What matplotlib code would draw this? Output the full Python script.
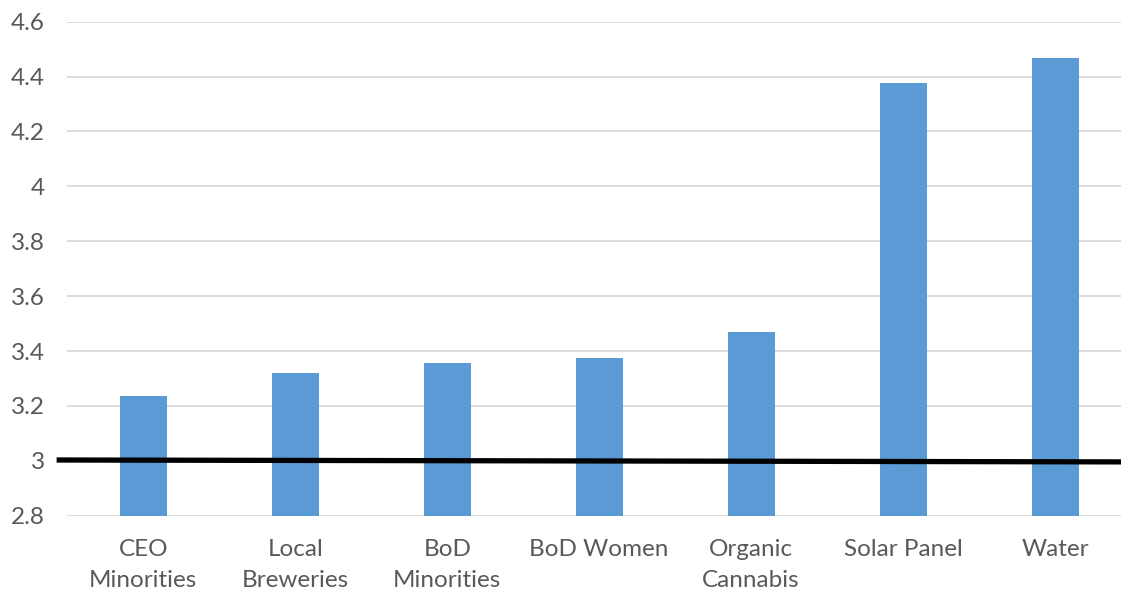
import matplotlib.pyplot as plt
import numpy as np

plt.rcParams["font.family"] = ["Lato", "DejaVu Sans"]

categories = ["CEO\nMinorities", "Local\nBreweries", "BoD\nMinorities", "BoD Women",
              "Organic\nCannabis", "Solar Panel", "Water"]
scores = [3.236, 3.319, 3.357, 3.374, 3.468, 4.376, 4.467]
yticks = [2.8, 3.0, 3.2, 3.4, 3.6, 3.8, 4.0, 4.2, 4.4, 4.6]
ytick_labels = ["2.8", "3", "3.2", "3.4", "3.6", "3.8", "4", "4.2", "4.4", "4.6"]

# reference line: ends slightly off level
ref_x = [-0.57, 6.5]
ref_y = [3.003, 2.996]

BAR_COLOR = "#5B9BD5"
TEXT_COLOR = "#595959"
GRID_COLOR = "#D9D9D9"

fig = plt.figure(figsize=(11.21, 5.91), dpi=100)
ax = fig.add_axes([0.060, 0.1274, 0.949, 0.8359])

x = np.arange(len(categories))
ax.bar(x, scores, width=0.31, bottom=0, color=BAR_COLOR, zorder=2)

ax.plot(ref_x, ref_y, color="black", linewidth=3.8, solid_capstyle="butt",
        clip_on=False, zorder=3)

ax.set_xlim(-0.5, 6.5)
ax.set_ylim(2.8, 4.6)
ax.set_yticks(yticks)
ax.set_yticklabels(ytick_labels)
ax.set_xticks(x)
ax.set_xticklabels(categories, linespacing=1.55)

ax.yaxis.grid(True, color=GRID_COLOR, linewidth=1.3, zorder=0)
ax.set_axisbelow(True)
for side in ["top", "right", "left", "bottom"]:
    ax.spines[side].set_visible(False)

ax.tick_params(axis="both", length=0, labelsize=17.5, colors=TEXT_COLOR)
ax.tick_params(axis="y", pad=16)
ax.tick_params(axis="x", pad=17)

fig.savefig("out.png", dpi=100)
